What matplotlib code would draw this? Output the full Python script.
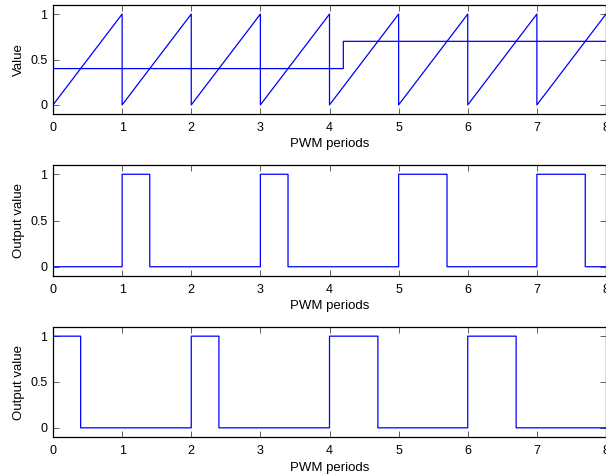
import matplotlib
matplotlib.use("Agg")
import matplotlib.pyplot as plt

plt.rcParams['font.family'] = ['Liberation Sans', 'DejaVu Sans']
plt.rcParams['font.size'] = 9

# sawtooth carrier (one ramp per PWM period)
saw_x = [0, 1, 1, 2, 2, 3, 3, 4, 4, 5, 5, 6, 6, 7, 7, 8]
saw_y = [0, 1, 0, 1, 0, 1, 0, 1, 0, 1, 0, 1, 0, 1, 0, 1]

# reference value
ref_x = [0, 4.2, 4.2, 8]
ref_y = [0.4, 0.4, 0.7, 0.7]

# outputs (edges, step "post")
out1_t = [0, 1, 1.4, 3, 3.4, 5, 5.7, 7, 7.7, 8]
out1_v = [0, 1, 0, 1, 0, 1, 0, 1, 0, 0]
out2_t = [0, 0.4, 2, 2.4, 4, 4.7, 6, 6.7, 8]
out2_v = [1, 0, 1, 0, 1, 0, 1, 0, 0]

xticks = list(range(9))
yticks = [0, 0.5, 1]
ytick_labels = ["0", "0.5", "1"]

fig = plt.figure(figsize=(6.06, 4.74), dpi=100)

left = 53 / 606
width = 553 / 606
ax1 = fig.add_axes([left, 1 - 114 / 474, width, 109 / 474])
ax2 = fig.add_axes([left, 1 - 276 / 474, width, 111 / 474])
ax3 = fig.add_axes([left, 1 - 437 / 474, width, 110 / 474])

line_kw = dict(color="#0000ff", lw=0.9, snap=False)
ax1.plot(saw_x, saw_y, **line_kw)
ax1.plot(ref_x, ref_y, **line_kw)
ax2.step(out1_t, out1_v, where="post", **line_kw)
ax3.step(out2_t, out2_v, where="post", **line_kw)

ax1.set_ylabel("Value", fontsize=9.5, labelpad=4)
ax2.set_ylabel("Output value", fontsize=9.5, labelpad=4)
ax3.set_ylabel("Output value", fontsize=9.5, labelpad=4)

for ax in (ax1, ax2, ax3):
    ax.set_xlim(0, 8)
    ax.set_ylim(-0.1, 1.1)
    ax.set_xticks(xticks)
    ax.set_yticks(yticks)
    ax.set_yticklabels(ytick_labels)
    ax.set_xlabel("PWM periods", fontsize=9.5, labelpad=3)
    ax.tick_params(direction="in", top=True, right=True, length=4.5,
                   width=0.6, color="#444444")
    ax.tick_params(axis="x", pad=6)
    ax.tick_params(axis="y", pad=4)
    for s in ax.spines.values():
        s.set_linewidth(0.9)

fig.savefig("out.png", dpi=100)
